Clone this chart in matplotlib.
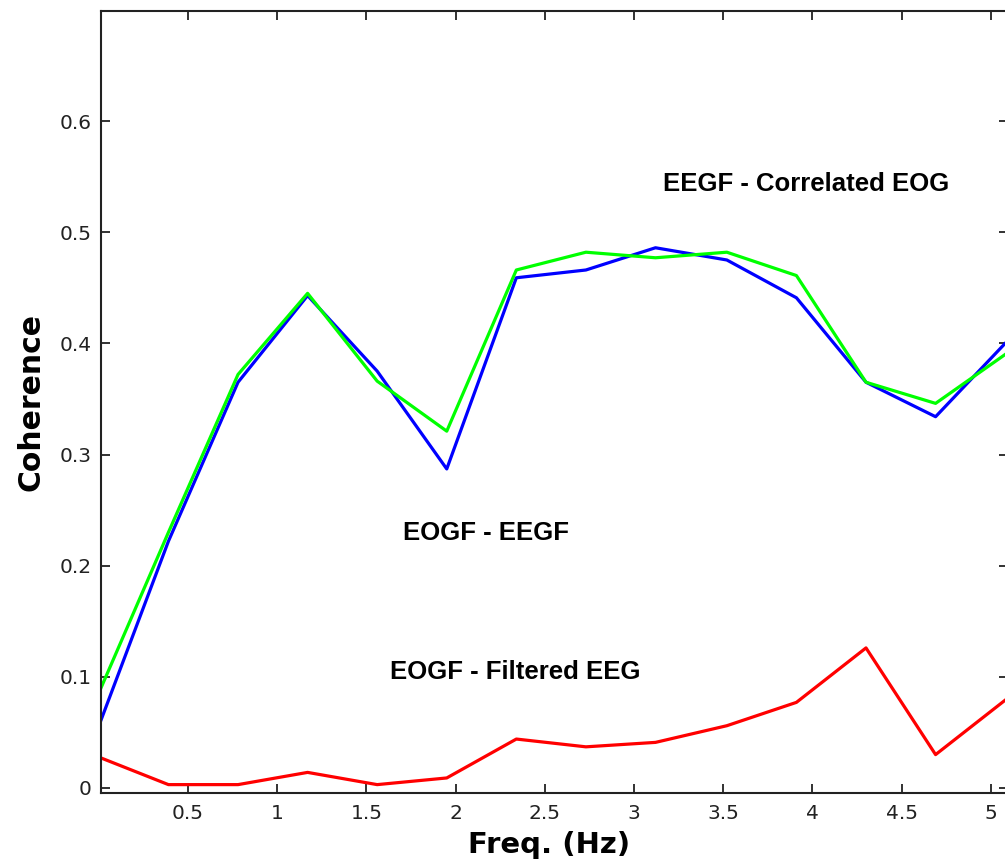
import matplotlib
matplotlib.use('Agg')
import matplotlib.pyplot as plt

# coherence estimates, one value per frequency bin
freq = [0.012, 0.39, 0.78, 1.17, 1.56, 1.95, 2.34, 2.73, 3.12, 3.52, 3.91, 4.30, 4.69, 5.08]
eogf_eegf = [0.061, 0.222, 0.365, 0.443, 0.375, 0.287, 0.459, 0.466, 0.486, 0.475, 0.441, 0.365, 0.334, 0.400]
eegf_corr_eog = [0.090, 0.230, 0.372, 0.445, 0.366, 0.321, 0.466, 0.482, 0.477, 0.482, 0.461, 0.365, 0.346, 0.390]
eogf_filt_eeg = [0.027, 0.003, 0.003, 0.014, 0.003, 0.009, 0.044, 0.037, 0.041, 0.056, 0.077, 0.126, 0.030, 0.079]

xticks = [0.5, 1, 1.5, 2, 2.5, 3, 3.5, 4, 4.5, 5]
xticklabels = ['0.5', '1', '1.5', '2', '2.5', '3', '3.5', '4', '4.5', '5']
yticks = [0, 0.1, 0.2, 0.3, 0.4, 0.5, 0.6]
yticklabels = ['0', '0.1', '0.2', '0.3', '0.4', '0.5', '0.6']

fig = plt.figure(figsize=(10.05, 8.67), dpi=100)
ax = fig.add_axes([0.1005, 0.0854, 0.9025, 0.9019])

ax.plot(freq, eogf_eegf, color='#0000ff', linewidth=2.3)
ax.plot(freq, eegf_corr_eog, color='#00ff00', linewidth=2.3)
ax.plot(freq, eogf_filt_eeg, color='#ff0000', linewidth=2.3)

ax.set_xlim(0.012, 5.096)
ax.set_ylim(-0.0045, 0.699)
ax.set_xticks(xticks)
ax.set_xticklabels(xticklabels)
ax.set_yticks(yticks)
ax.set_yticklabels(yticklabels)
ax.tick_params(direction='in', length=6.5, width=1.3, labelsize=14.5,
               top=True, right=True, colors='#222222')
ax.tick_params(axis='x', pad=8)
ax.tick_params(axis='y', pad=7)
for s in ax.spines.values():
    s.set_linewidth(1.5)
    s.set_color('#222222')

ax.set_xlabel('Freq. (Hz)', fontsize=21, fontweight='bold')
ax.set_ylabel('Coherence', fontsize=21.5, fontweight='bold', labelpad=10)
ax.xaxis.set_label_coords(0.494, -0.049, transform=ax.transAxes)
ax.xaxis.label.set_va('top')

tfont = dict(fontsize=18.5, fontweight='bold', family='Liberation Sans', va='center', ha='left')
ax.text(3.16, 0.543, 'EEGF - Correlated EOG', **tfont)
ax.text(1.705, 0.229, 'EOGF - EEGF', **tfont)
ax.text(1.63, 0.104, 'EOGF - Filtered EEG', **tfont)

fig.savefig('out.png', dpi=100)
